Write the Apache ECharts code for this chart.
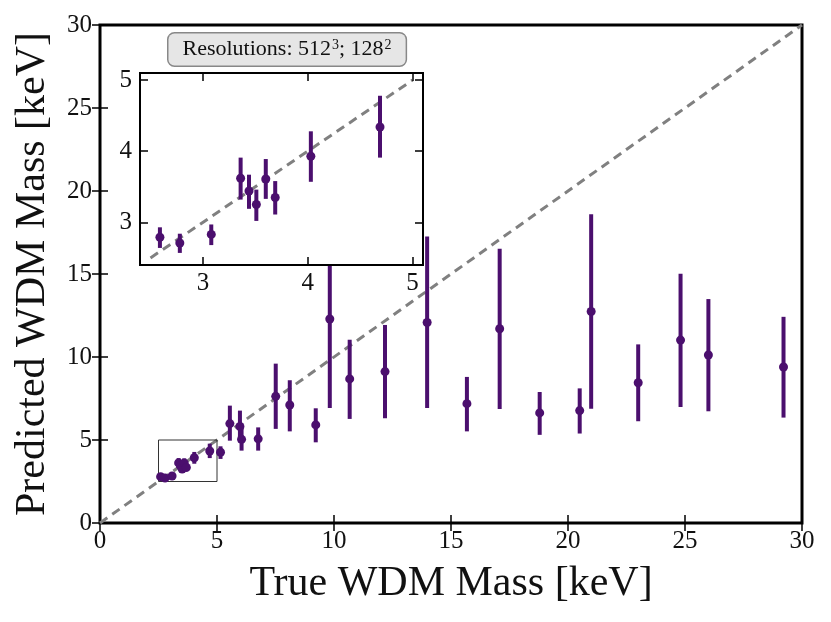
<!DOCTYPE html>
<html>
<head>
<meta charset="UTF-8">
<script src="https://cdn.jsdelivr.net/npm/echarts@6/dist/echarts.min.js"></script>
<style>
  html, body { margin: 0; padding: 0; background: #fff; }
  #main { width: 831px; height: 622px; }
</style>
<title>WDM mass</title>
</head>
<body>
<div id="main"></div>
<script type="text/javascript">
// true mass, predicted mass, lower and upper ends of the error bar
var trueMass = [2.59, 2.78, 3.08, 3.36, 3.44, 3.51, 3.60, 3.69, 4.03, 4.69,
                5.15, 5.55, 5.98, 6.05, 6.76, 7.51, 8.11, 9.22, 9.82, 10.67,
                12.18, 13.98, 15.68, 17.08, 18.79, 20.50, 20.99, 23.00, 24.81, 26.00, 29.21];
var predMass = [2.79, 2.71, 2.83, 3.62, 3.44, 3.25, 3.61, 3.35, 3.93, 4.34,
                4.26, 5.99, 5.81, 5.04, 5.07, 7.63, 7.11, 5.91, 12.29, 8.68,
                9.12, 12.08, 7.19, 11.70, 6.63, 6.77, 12.74, 8.45, 11.02, 10.12, 9.40];
var errLow  = [2.64, 2.57, 2.68, 3.32, 3.19, 3.02, 3.33, 3.11, 3.57, 3.91,
               3.86, 4.96, 4.85, 4.36, 4.36, 5.67, 5.52, 4.86, 6.93, 6.27,
               6.31, 6.93, 5.52, 6.87, 5.31, 5.39, 6.89, 6.13, 6.99, 6.73, 6.35];
var errHigh = [2.93, 2.84, 2.97, 3.91, 3.67, 3.46, 3.89, 3.58, 4.28, 4.78,
               4.62, 7.07, 6.77, 5.70, 5.76, 9.60, 8.60, 6.91, 17.50, 11.04,
               11.93, 17.26, 8.80, 16.52, 7.89, 8.11, 18.60, 10.76, 15.01, 13.49, 12.42];
var mainTicks = [0, 5, 10, 15, 20, 25, 30];
var insetTicks = [3, 4, 5];
var insetBox = [[2.5, 2.5], [5, 2.5], [5, 5], [2.5, 5], [2.5, 2.5]];
var insetMax = 5.1;

var purple = '#4b0f6e';
var font = 'Liberation Serif';

var rows = [];
for (var i = 0; i < trueMass.length; i++) {
    rows.push([trueMass[i], predMass[i], errLow[i], errHigh[i]]);
}
var insetRows = rows.filter(function (r) { return r[0] <= insetMax; });

function errorBars(params, api) {
    var x = api.value(0);
    var a = api.coord([x, api.value(2)]);
    var b = api.coord([x, api.value(3)]);
    return {
        type: 'line',
        shape: { x1: a[0], y1: a[1], x2: b[0], y2: b[1] },
        style: { stroke: purple, lineWidth: 4 }
    };
}

function axisX(idx, pos, min, max, ticks, show, z) {
    return {
        type: 'value', gridIndex: idx, position: pos, min: min, max: max,
        z: z,
        axisLine: { show: false },
        axisTick: { inside: true, length: 8, customValues: ticks, lineStyle: { color: '#000', width: 1.5 } },
        axisLabel: { show: show, customValues: ticks, fontFamily: font, fontSize: 25, color: '#111', margin: 6 },
        splitLine: { show: false }
    };
}
function axisY(idx, pos, min, max, ticks, show, z) {
    return {
        type: 'value', gridIndex: idx, position: pos, min: min, max: max,
        z: z,
        axisLine: { show: false },
        axisTick: { inside: true, length: 8, customValues: ticks, lineStyle: { color: '#000', width: 1.5 } },
        axisLabel: { show: show, customValues: ticks, fontFamily: font, fontSize: 25, color: '#111', margin: 8 },
        splitLine: { show: false }
    };
}

var xs = [
    axisX(0, 'bottom', 0, 30, mainTicks, true, 0),
    axisX(0, 'top', 0, 30, mainTicks, false, 0),
    axisX(1, 'bottom', 2.4, 5.1, insetTicks, true, 21),
    axisX(1, 'top', 2.4, 5.1, insetTicks, false, 21)
];
var ys = [
    axisY(0, 'left', 0, 30, mainTicks, true, 0),
    axisY(0, 'right', 0, 30, mainTicks, false, 0),
    axisY(1, 'left', 2.4, 5.1, insetTicks, true, 21),
    axisY(1, 'right', 2.4, 5.1, insetTicks, false, 21)
];
xs[0].name = 'True WDM Mass [keV]';
xs[0].nameLocation = 'middle';
xs[0].nameGap = 40;
xs[0].nameTextStyle = { fontFamily: font, fontSize: 42, color: '#111' };
ys[0].name = 'Predicted WDM Mass [keV]';
ys[0].nameLocation = 'middle';
ys[0].nameGap = 46;
ys[0].nameTextStyle = { fontFamily: font, fontSize: 42, color: '#111' };

var myChart = echarts.init(document.getElementById('main'));
var option = {
    animation: false,
    backgroundColor: '#fff',
    grid: [
        { left: 100, top: 25, width: 702, height: 498, show: true, borderColor: '#000', borderWidth: 3, backgroundColor: 'transparent', z: 0 },
        { left: 140, top: 73, width: 283, height: 192, show: true, borderColor: '#000', borderWidth: 2, backgroundColor: '#fff', z: 10 }
    ],
    xAxis: xs,
    yAxis: ys,
    graphic: [{
        type: 'text', left: 167, top: 32, z: 30,
        style: {
            text: '{t|Resolutions: 512}{s|3}{t|; 128}{s|2}',
            rich: {
                t: { fontFamily: font, fontSize: 22, fill: '#111', lineHeight: 22 },
                s: { fontFamily: font, fontSize: 14, fill: '#111', lineHeight: 22, verticalAlign: 'top', padding: [0, 0, 9, 1] }
            },
            backgroundColor: '#e6e6e6', borderColor: '#888', borderWidth: 1.5,
            borderRadius: 6, padding: [5, 14, 5, 14]
        }
    }],
    series: [
        { type: 'line', xAxisIndex: 0, yAxisIndex: 0, data: [[0, 0], [30, 30]], symbol: 'none', z: 1,
          lineStyle: { color: '#808080', width: 3, type: [9, 6] } },
        { type: 'line', xAxisIndex: 0, yAxisIndex: 0, data: insetBox, symbol: 'none', z: 1,
          lineStyle: { color: '#333', width: 1 } },
        { type: 'custom', xAxisIndex: 0, yAxisIndex: 0, data: rows, renderItem: errorBars, z: 2,
          encode: { x: 0, y: [1, 2, 3] } },
        { type: 'scatter', xAxisIndex: 0, yAxisIndex: 0, data: rows, symbolSize: 9, z: 3,
          itemStyle: { color: purple, opacity: 1 }, encode: { x: 0, y: 1 } },

        { type: 'line', xAxisIndex: 2, yAxisIndex: 2, data: [[2.5, 2.5], [5, 5]], symbol: 'none', z: 20,
          lineStyle: { color: '#808080', width: 3, type: [9, 6] } },
        { type: 'custom', xAxisIndex: 2, yAxisIndex: 2, data: insetRows, renderItem: errorBars, z: 21,
          encode: { x: 0, y: [1, 2, 3] } },
        { type: 'scatter', xAxisIndex: 2, yAxisIndex: 2, data: insetRows, symbolSize: 9, z: 22,
          itemStyle: { color: purple, opacity: 1 }, encode: { x: 0, y: 1 } }
    ]
};
myChart.setOption(option);
</script>
</body>
</html>
